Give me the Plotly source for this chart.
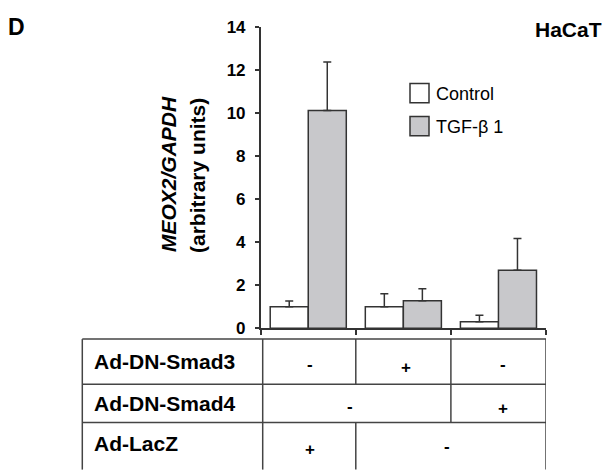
import plotly.graph_objects as go

# ---------------- data ----------------
groups = [0.5, 1.5, 2.5]                 # group centres on the numeric x axis
series_names = ["Control", "TGF-\u03b2 1"]
control_vals = [1.0, 1.0, 0.3]
control_err = [0.26, 0.60, 0.30]
tgf_vals = [10.1, 1.28, 2.69]
tgf_err = [2.26, 0.55, 1.48]
y_ticks = [0, 2, 4, 6, 8, 10, 12, 14]

row_labels = ["Ad-DN-Smad3", "Ad-DN-Smad4", "Ad-LacZ"]
# each row: list of (start group, end group, sign, sign x position in axis units)
row_cells = [
    [(0, 1, "-", 0.52), (1, 2, "+", 1.53), (2, 3, "-", 2.55)],
    [(0, 2, "-", 0.94), (2, 3, "+", 2.55)],
    [(0, 1, "+", 0.52), (1, 3, "-", 1.96)],
]

# ---------------- layout geometry (pixels) ----------------
W, H = 605, 470
def px(x):
    return x / W
def py(y):
    return 1 - y / H

x_left_px, x_right_px = 260.7, 546.0
y_zero_px, y_top_px = 332.7, 18.3

line_col = "#333333"
gray_fill = "#c8c8cb"
FONT = "Liberation Sans, Arial, sans-serif"

fig = go.Figure()
fig.add_trace(go.Bar(
    x=groups, y=control_vals, name=series_names[0],
    marker=dict(color="white", line=dict(color=line_col, width=1.5)),
    error_y=dict(type="data", array=control_err, arrayminus=[0] * 3, symmetric=False,
                 color=line_col, thickness=1.5, width=4),
    showlegend=False,
))
fig.add_trace(go.Bar(
    x=groups, y=tgf_vals, name=series_names[1],
    marker=dict(color=gray_fill, line=dict(color=line_col, width=1.5)),
    error_y=dict(type="data", array=tgf_err, arrayminus=[0] * 3, symmetric=False,
                 color=line_col, thickness=1.5, width=4),
    showlegend=False,
))

fig.update_layout(
    width=W, height=H,
    margin=dict(l=0, r=0, t=0, b=0),
    paper_bgcolor="white", plot_bgcolor="white",
    barmode="group", bargap=0.2, bargroupgap=0,
    font=dict(family=FONT, color="black"),
    xaxis=dict(domain=[px(x_left_px), px(x_right_px)], range=[0, 3],
               tickvals=[0, 1, 2, 3], ticktext=["", "", "", ""],
               ticks="outside", ticklen=5, tickwidth=1.5, tickcolor=line_col,
               showline=True, linecolor=line_col, linewidth=1.5,
               showgrid=False, zeroline=False, fixedrange=True),
    yaxis=dict(domain=[py(y_zero_px), py(y_top_px)], range=[0, 14],
               tickvals=y_ticks, ticktext=[str(v) for v in y_ticks],
               ticks="outside", ticklen=4, tickwidth=1.5, tickcolor=line_col,
               showline=True, linecolor=line_col, linewidth=1.5,
               showgrid=False, zeroline=False, fixedrange=True,
               tickfont=dict(family=FONT, size=17, color="black", weight="bold"),
               ticklabelstandoff=6),
)

shapes = []
annotations = []

# ---- legend (drawn manually) ----
legend_items = [(series_names[0], "white", 87.7), (series_names[1], gray_fill, 122.0)]
for name, fill, cy in legend_items:
    shapes.append(dict(type="rect", xref="paper", yref="paper",
                       x0=px(410), x1=px(429), y0=py(cy + 10), y1=py(cy - 10),
                       fillcolor=fill, line=dict(color=line_col, width=1.5)))
    annotations.append(dict(text=name, xref="paper", yref="paper", x=px(434), y=py(cy + 1),
                            xanchor="left", yanchor="middle", showarrow=False,
                            font=dict(family=FONT, size=18, color="black")))

# ---- panel letter and cell line ----
annotations.append(dict(text="<b>D</b>", xref="paper", yref="paper", x=px(6), y=py(19),
                        xanchor="left", yanchor="middle", showarrow=False,
                        font=dict(family=FONT, size=23, color="black")))
annotations.append(dict(text="<b>HaCaT</b>", xref="paper", yref="paper", x=px(604), y=py(21.5),
                        xanchor="right", yanchor="middle", showarrow=False,
                        font=dict(family=FONT, size=21, color="black")))

# ---- y axis title (two lines) ----
annotations.append(dict(text="<b><i>MEOX2/GAPDH</i></b>", xref="paper", yref="paper",
                        x=px(168), y=py(172), xanchor="center", yanchor="middle",
                        textangle=-90, showarrow=False,
                        font=dict(family=FONT, size=21, color="black")))
annotations.append(dict(text="<b>(arbitrary units)</b>", xref="paper", yref="paper",
                        x=px(197.5), y=py(173.5), xanchor="center", yanchor="middle",
                        textangle=-90, showarrow=False,
                        font=dict(family=FONT, size=21, color="black")))

# ---- table ----
tab_left = 82.3
tab_hdr_right = 262.7
row_edges = [344.0, 391.0, 431.0, 480.0]
tcol = "#444444"
tw = 1.5
for ye in row_edges[:-1]:
    shapes.append(dict(type="line", xref="paper", yref="paper",
                       x0=px(tab_left), x1=px(x_right_px), y0=py(ye), y1=py(ye),
                       line=dict(color=tcol, width=tw)))
for xv in [tab_left, tab_hdr_right]:
    shapes.append(dict(type="line", xref="paper", yref="paper",
                       x0=px(xv), x1=px(xv), y0=py(row_edges[0]), y1=py(row_edges[-1]),
                       line=dict(color=tcol, width=tw)))
for r, cells in enumerate(row_cells):
    for (g0, g1, sign, sx) in cells:
        shapes.append(dict(type="line", xref="x", yref="paper",
                           x0=g1, x1=g1, y0=py(row_edges[r]), y1=py(row_edges[r + 1]),
                           line=dict(color=tcol, width=tw)))
label_y = [367.5, 411, 453]
sign_dy = [[3, 6, 3], [3, 5], [6, 3]]
for r, label in enumerate(row_labels):
    cy = label_y[r]
    annotations.append(dict(text="<b>" + label + "</b>", xref="paper", yref="paper",
                            x=px(92), y=py(cy), xanchor="left", yanchor="middle",
                            showarrow=False, font=dict(family=FONT, size=21, color="black")))
    for k, (g0, g1, sign, sx) in enumerate(row_cells[r]):
        annotations.append(dict(text="<b>" + sign + "</b>", xref="x", yref="paper",
                                x=sx, y=py(cy + sign_dy[r][k]), xanchor="center", yanchor="middle",
                                showarrow=False, font=dict(family=FONT, size=17, color="black")))

fig.update_layout(shapes=shapes, annotations=annotations)
fig.write_html("out.html", config={"displayModeBar": False},
               post_script="document.body.style.margin='0';")
